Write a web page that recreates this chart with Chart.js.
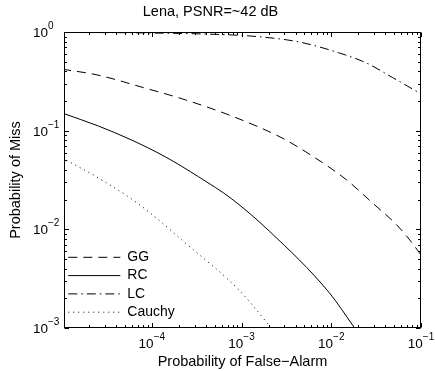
<!DOCTYPE html>
<html>
<head>
<meta charset="utf-8">
<script src="https://cdn.jsdelivr.net/npm/chart.js@4.4.0/dist/chart.umd.min.js"></script>
<style>
  html, body { margin: 0; padding: 0; background: #fff; }
</style>
</head>
<body>
<canvas id="roc" width="435" height="371"></canvas>
<script>
(function () {
  'use strict';

  // 系列名
  const seriesNames = ['GG', 'RC', 'LC', 'Cauchy'];

  // 値 (Probability of False-Alarm / Probability of Miss)
  const ggFa = [1e-5, 2.47e-5, 8.07e-5, 2.38e-4, 8.22e-4, 2.83e-3, 6.14e-3, 1.48e-2, 2.88e-2, 5.36e-2, 7.5e-2, 1e-1];
  const ggMiss = [0.42, 0.367, 0.273, 0.205, 0.138, 0.0843, 0.0554, 0.0317, 0.0185, 0.0111, 0.0078, 0.0055];

  const rcFa = [1e-5, 2.53e-5, 5.93e-5, 1.42e-4, 3.33e-4, 7.8e-4, 2.03e-3, 9.53e-3, 1.82e-2];
  const rcMiss = [0.151, 0.1116, 0.0805, 0.0542, 0.034, 0.0203, 0.00963, 0.00227, 0.001];

  const lcFa = [1e-5, 1e-4, 7.82e-4, 1.69e-3, 4.4e-3, 1.23e-2, 2.47e-2, 4.83e-2, 1e-1];
  const lcMiss = [0.99, 0.977, 0.933, 0.89, 0.792, 0.613, 0.485, 0.345, 0.236];

  const cauchyFa = [1e-5, 2.53e-5, 7.1e-5, 2.58e-4, 9.35e-4, 1.92e-3, 2.13e-3];
  const cauchyMiss = [0.0529, 0.0332, 0.0181, 0.00679, 0.00243, 0.00113, 0.001];

  // 目盛り
  const xMajor = [1e-4, 1e-3, 1e-2, 1e-1];
  const yMajor = [1e-3, 1e-2, 1e-1, 1];

  const FONT = '"Liberation Sans", Arial, Helvetica, sans-serif';
  Chart.defaults.font.family = FONT;
  Chart.defaults.color = '#000';

  function pts(xs, ys) {
    return xs.map(function (x, i) { return { x: x, y: ys[i] }; });
  }

  // {data, dash}
  const lines = [
    [pts(ggFa, ggMiss), [9, 6]],
    [pts(rcFa, rcMiss), []],
    [pts(lcFa, lcMiss), [9, 4, 1.5, 4]],
    [pts(cauchyFa, cauchyMiss), [1, 4]],
  ];

  const datasets = [];
  for (let i = 0; i < lines.length; i++) {
    datasets[i] = {
      label: seriesNames[i],
      data: lines[i][0],
      borderDash: lines[i][1],
      borderColor: '#000',
      backgroundColor: '#000',
      borderWidth: 1,
      pointRadius: 0,
      pointHoverRadius: 0,
      fill: false,
      cubicInterpolationMode: 'monotone',
    };
  }

  // minor ticks (k * 10^n)
  function logTicks(min, max) {
    const out = [];
    for (let n = Math.floor(Math.log10(min)); n <= Math.ceil(Math.log10(max)); n++) {
      for (let k = 1; k <= 9; k++) {
        const v = k * Math.pow(10, n);
        if (v >= min * 0.9999 && v <= max * 1.0001) out.push({ value: v, major: k === 1 });
      }
    }
    return out;
  }

  // 10^n ラベル
  function drawPow(ctx, exp, x, y, align) {
    const base = '10';
    const sup = exp < 0 ? '\u2212' + (-exp) : String(exp);
    const baseFont = '13.5px ' + FONT;
    const supFont = '10px ' + FONT;
    ctx.font = baseFont;
    const wb = ctx.measureText(base).width;
    ctx.font = supFont;
    const ws = ctx.measureText(sup).width;
    const left = align === 'center' ? x - (wb + ws) / 2 : x;
    ctx.textAlign = 'left';
    ctx.textBaseline = 'alphabetic';
    ctx.font = baseFont;
    ctx.fillText(base, left, y);
    ctx.font = supFont;
    ctx.fillText(sup, left + wb, y - 8);
  }

  // 枠・目盛り・目盛りラベル (MATLAB風)
  const boxPlugin = {
    id: 'matlabBox',
    afterLayout(chart) {
      // 凡例を左下に
      chart.legend.top = chart.chartArea.bottom - 82;
      chart.legend.bottom = chart.chartArea.bottom;
    },
    afterDraw(chart) {
      const ctx = chart.ctx;
      const a = chart.chartArea;
      const xs = chart.scales.x;
      const ys = chart.scales.y;
      const L = Math.round(a.left) + 0.5, R = Math.round(a.right) - 0.5;
      const T = Math.round(a.top) + 0.5, B = Math.round(a.bottom) - 0.5;
      ctx.save();
      ctx.strokeStyle = '#000';
      ctx.lineWidth = 1;
      ctx.setLineDash([]);
      ctx.beginPath();
      xs.ticks.forEach(function (t) {
        const px = Math.round(xs.getPixelForValue(t.value)) + 0.5;
        const len = t.major ? 4.5 : 2.5;
        ctx.moveTo(px, B); ctx.lineTo(px, B - len);
        ctx.moveTo(px, T); ctx.lineTo(px, T + len);
      });
      ys.ticks.forEach(function (t) {
        const py = Math.round(ys.getPixelForValue(t.value)) + 0.5;
        const len = t.major ? 4.5 : 2.5;
        ctx.moveTo(L, py); ctx.lineTo(L + len, py);
        ctx.moveTo(R, py); ctx.lineTo(R - len, py);
      });
      ctx.stroke();
      ctx.strokeRect(L, T, R - L, B - T);

      ctx.fillStyle = '#000';
      xMajor.forEach(function (v) {
        drawPow(ctx, Math.round(Math.log10(v)), xs.getPixelForValue(v), a.bottom + 20, 'center');
      });
      yMajor.forEach(function (v) {
        drawPow(ctx, Math.round(Math.log10(v)), a.left - 31, ys.getPixelForValue(v) + 5, 'left');
      });
      ctx.restore();
    }
  };

  const options = {
    responsive: false,
    animation: false,
    layout: { padding: { left: 0, right: 14, top: 0, bottom: 0 } },
    scales: {
      x: {
        type: 'logarithmic',
        position: 'bottom',
        min: 1.05e-5,
        max: 1e-1,
        grid: { display: false },
        border: { display: false },
        ticks: { display: false },
        afterBuildTicks: function (s) { s.ticks = logTicks(s.min, s.max); },
        afterFit: function (s) { s.height = 43; },
        title: {
          display: true,
          text: 'Probability of False\u2212Alarm',
          font: { size: 14.5 },
          padding: { top: 0, bottom: 0 },
        },
      },
      y: {
        type: 'logarithmic',
        position: 'left',
        min: 1e-3,
        max: 1,
        grid: { display: false },
        border: { display: false },
        ticks: { display: false },
        afterBuildTicks: function (s) { s.ticks = logTicks(s.min, s.max); },
        afterFit: function (s) { s.width = 64; },
        title: {
          display: true,
          text: 'Probability of Miss',
          font: { size: 14.5 },
          padding: { top: 7, bottom: 0 },
        },
      },
    },
    plugins: {
      title: {
        display: true,
        text: 'Lena, PSNR=~42 dB',
        font: { size: 14.5, weight: 'normal' },
        padding: { top: 3, bottom: 11.6 },
      },
      legend: {
        position: 'chartArea',
        align: 'start',
        labels: {
          usePointStyle: true,
          pointStyle: 'line',
          pointStyleWidth: 52,
          padding: 4.3,
          font: { size: 14 },
          generateLabels: function (chart) {
            const items = Chart.defaults.plugins.legend.labels.generateLabels(chart);
            items.forEach(function (it) {
              const ds = chart.data.datasets[it.datasetIndex];
              it.lineDash = ds.borderDash;
              it.strokeStyle = ds.borderColor;
              it.lineWidth = 1;
            });
            return items;
          },
        },
      },
      tooltip: { enabled: false },
    },
  };

  const ctx = document.getElementById('roc').getContext('2d');
  new Chart(ctx, {
    type: 'line',
    data: { datasets: datasets },
    options: options,
    plugins: [boxPlugin],
  });
})();
</script>
</body>
</html>
